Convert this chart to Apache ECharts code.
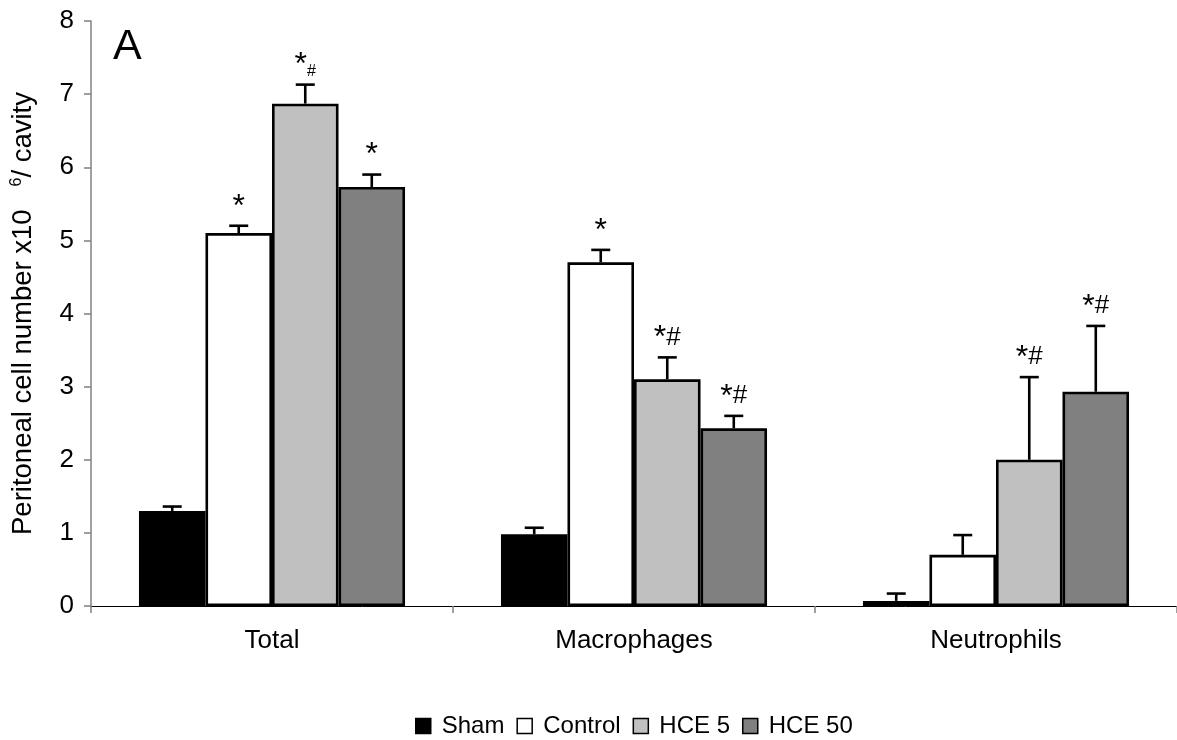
<!DOCTYPE html>
<html>
<head>
<meta charset="utf-8">
<script src="https://cdn.jsdelivr.net/npm/echarts@6/dist/echarts.min.js"></script>
<style>html,body{margin:0;padding:0;background:#fff}#c{width:1177px;height:740px}</style>
</head>
<body>
<div id="c"></div>
<script>
var categories = ['Total', 'Macrophages', 'Neutrophils'];
var seriesNames = ['Sham', 'Control', 'HCE 5', 'HCE 50'];
var shamValues = [1.30, 0.98, 0.07];
var controlValues = [5.10, 4.70, 0.70];
var hce5Values = [6.87, 3.10, 2.00];
var hce50Values = [5.73, 2.43, 2.93];
var shamErrors = [0.06, 0.09, 0.10];
var controlErrors = [0.10, 0.17, 0.27];
var hce5Errors = [0.26, 0.30, 1.13];
var hce50Errors = [0.17, 0.17, 0.90];
var shamMarks = ['', '', ''];
var controlMarks = ['*', '*', ''];
var hce5Marks = ['*#small', '*#', '*#'];
var hce50Marks = ['*', '*#', '*#'];
var yTicks = [0, 1, 2, 3, 4, 5, 6, 7, 8];

var colors = ['#000000', '#ffffff', '#c0c0c0', '#808080'];
var valuesAll = [shamValues, controlValues, hce5Values, hce50Values];
var errorsAll = [shamErrors, controlErrors, hce5Errors, hce50Errors];
var marksAll = [shamMarks, controlMarks, hce5Marks, hce50Marks];
var gapFrac = 0.265;
var FONT = 'Liberation Sans, Arial, sans-serif';

var chart = echarts.init(document.getElementById('c'));
var series = [];
seriesNames.forEach(function (name, si) {
  series.push({
    name: name,
    type: 'bar',
    data: valuesAll[si],
    barGap: '0%',
    barCategoryGap: (gapFrac * 100) + '%',
    itemStyle: { color: colors[si], borderColor: '#000', borderWidth: 2.6 },
    z: 2
  });
});
seriesNames.forEach(function (name, si) {
  series.push({
    type: 'custom',
    name: name + ' err',
    z: 5,
    silent: true,
    data: categories.map(function (c, ci) { return [ci, valuesAll[si][ci], errorsAll[si][ci], ci]; }),
    renderItem: function (params, api) {
      var ci = api.value(0), v = api.value(1), e = api.value(2);
      var band = api.size([1, 0])[0];
      var bw = band * (1 - gapFrac) / 4;
      var p0 = api.coord([ci, v]);
      var p1 = api.coord([ci, v + e]);
      var x = p0[0] + (si - 1.5) * bw;
      var half = 9.5;
      var children = [
        { type: 'line', shape: { x1: x, y1: p0[1], x2: x, y2: p1[1] }, style: { stroke: '#000', lineWidth: 2.6 } },
        { type: 'line', shape: { x1: x - half, y1: p1[1], x2: x + half, y2: p1[1] }, style: { stroke: '#000', lineWidth: 2.6 } }
      ];
      var m = marksAll[si][ci];
      if (m) {
        var txt;
        if (m === '*#small') {
          txt = '{a|*}{b|#}';
        } else if (m === '*#') {
          txt = '{a|*}{c|#}';
        } else {
          txt = '{a|*}';
        }
        children.push({
          type: 'text',
          style: {
            x: x, y: p1[1] - 5, text: txt,
            align: 'center', verticalAlign: 'bottom',
            rich: {
              a: { fontSize: 32, fontFamily: FONT, fill: '#000', verticalAlign: 'top', lineHeight: 30 },
              b: { fontSize: 16, fontFamily: FONT, fill: '#000', verticalAlign: 'bottom', lineHeight: 30 },
              c: { fontSize: 26, fontFamily: FONT, fill: '#000', lineHeight: 30 }
            }
          }
        });
      }
      return { type: 'group', children: children };
    }
  });
});

chart.setOption({
  animation: false,
  backgroundColor: '#fff',
  grid: { left: 91, right: -4, top: 21, bottom: 134, containLabel: false },
  graphic: [{ type: 'text', left: 113, top: 26, style: { text: 'A', fontSize: 43, fontFamily: FONT, fill: '#000' } }],
  legend: {
    data: seriesNames,
    top: 709,
    left: 410,
    itemWidth: 15,
    itemHeight: 15,
    itemGap: 12,
    icon: 'rect',
    textStyle: { fontSize: 24, fontFamily: FONT, color: '#000', padding: [0, 0, 0, 6] },
    itemStyle: { borderColor: '#000', borderWidth: 1.5 }
  },
  xAxis: {
    type: 'category',
    data: categories,
    axisLine: { lineStyle: { color: '#000', width: 1 } },
    axisTick: { show: true, alignWithLabel: false, length: 7, lineStyle: { color: '#808080', width: 1.5 } },
    axisLabel: { fontSize: 26, fontFamily: FONT, color: '#000', margin: 22 }
  },
  yAxis: {
    type: 'value',
    min: yTicks[0],
    max: yTicks[yTicks.length - 1],
    interval: 1,
    axisLine: { show: true, lineStyle: { color: '#808080', width: 1.5 } },
    axisTick: { show: true, length: 7, lineStyle: { color: '#808080', width: 1.5 } },
    splitLine: { show: false },
    axisLabel: { fontSize: 26, fontFamily: FONT, color: '#000', margin: 17 },
    name: '{n|Peritoneal cell number x10   }{s|6}{n|/ cavity}',
    nameLocation: 'middle',
    nameGap: 54,
    nameRotate: 90,
    nameTextStyle: {
      rich: {
        n: { fontSize: 27.5, fontFamily: FONT, color: '#000' },
        s: { fontSize: 16, fontFamily: FONT, color: '#000', verticalAlign: 'top', padding: [0, 0, 10, 0] }
      }
    }
  },
  series: series
});
</script>
</body>
</html>
